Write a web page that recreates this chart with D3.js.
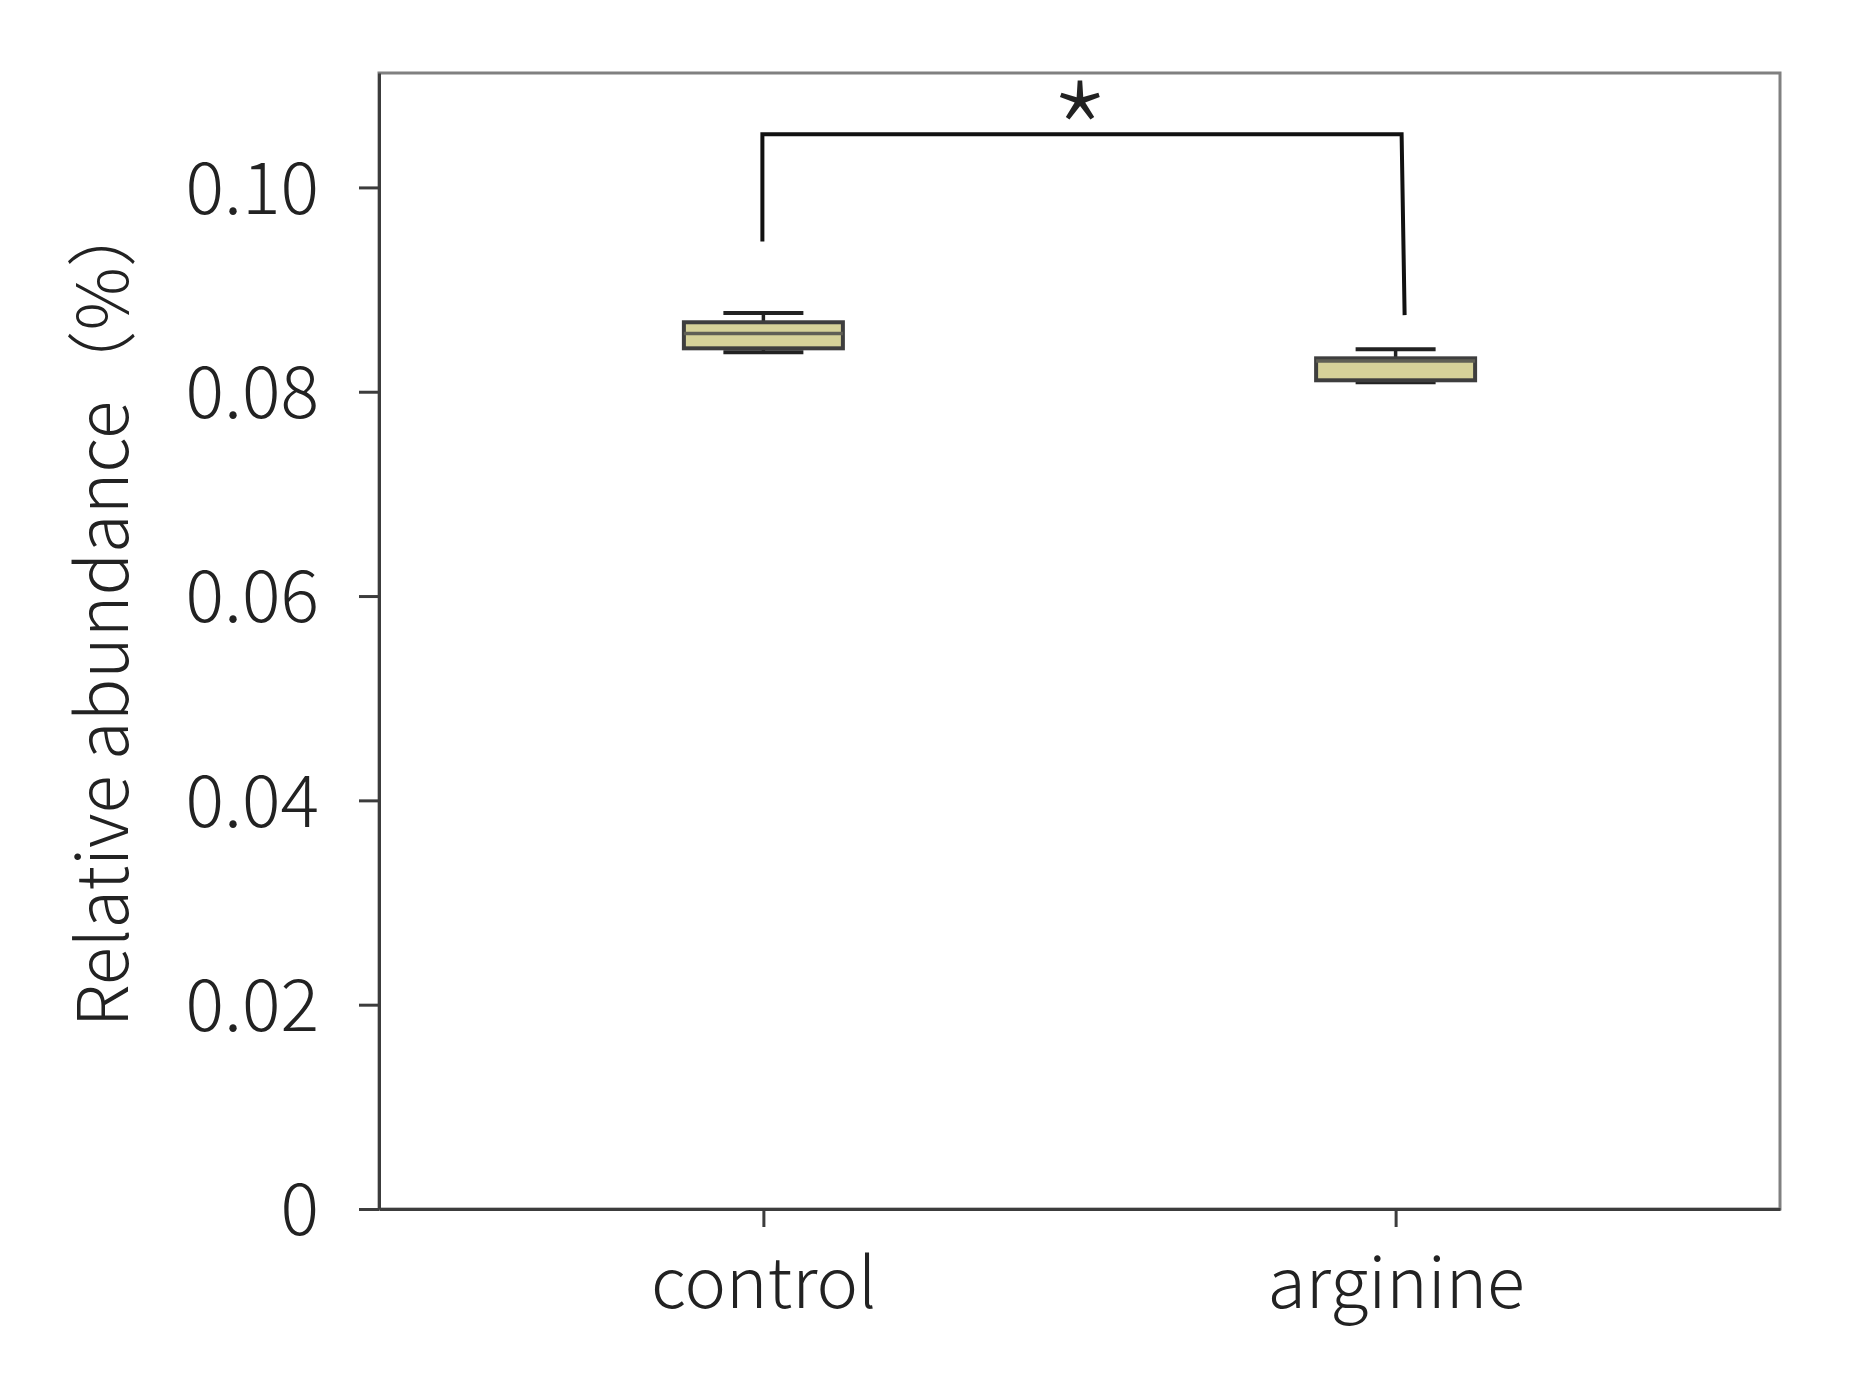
<!DOCTYPE html>
<html>
<head>
<meta charset="utf-8">
<script src="https://cdn.jsdelivr.net/npm/d3@7"></script>
<style>
  html, body { margin: 0; padding: 0; background: #fff; }
  svg text { font-family: "Noto Sans CJK JP", "Noto Sans", sans-serif; fill: #222; }
</style>
</head>
<body>
<svg id="chart" width="1868" height="1381"></svg>
<script>
// ---- data ----
const categories = ["control", "arginine"];
const whiskerMin = [0.08386, 0.08092];
const q1Values   = [0.08425, 0.08112];
const medians    = [0.08570, 0.08300];
const q3Values   = [0.08680, 0.08327];
const whiskerMax = [0.08770, 0.08415];
const yTickValues = [0, 0.02, 0.04, 0.06, 0.08, 0.10];
const yTickLabels = ["0", "0.02", "0.04", "0.06", "0.08", "0.10"];
const yLabel = "Relative abundance（%）";
// significance bracket: [left leg bottom, bracket top, right leg bottom]
const bracketLevels = [0.0947, 0.1052, 0.0875];
const sigLabel = "*";

// ---- layout ----
const svg = d3.select("#chart");
const pLeft = 379, pRight = 1780, pTop = 73, pBottom = 1209;
const FONT = "'Noto Sans CJK JP', sans-serif";
const WEIGHT = 300;

const x = d3.scalePoint().domain(categories).range([pLeft, pRight]).padding(0.608);
const y = d3.scaleLinear().domain([0, 0.1112]).range([pBottom, pTop]);

svg.append("rect").attr("x", 0).attr("y", 0).attr("width", 1868).attr("height", 1381).attr("fill", "#fff");

svg.append("rect")
  .attr("x", pLeft).attr("y", pTop).attr("width", pRight - pLeft).attr("height", pBottom - pTop)
  .attr("fill", "none").attr("stroke", "#808080").attr("stroke-width", 3);

const yAxis = d3.axisLeft(y).tickValues(yTickValues)
  .tickFormat((d, i) => yTickLabels[i]).tickSize(20).tickPadding(40).tickSizeOuter(0);
const gy = svg.append("g").attr("transform", `translate(${pLeft},0)`).call(yAxis);
gy.select(".domain").attr("stroke", "#3c3c3c").attr("stroke-width", 3);
gy.selectAll(".tick line").attr("stroke", "#3c3c3c").attr("stroke-width", 3);
gy.selectAll(".tick text").attr("font-size", 72).attr("font-weight", WEIGHT).attr("fill", "#1e1e1e")
  .attr("font-family", FONT).attr("dy", "0.36em");

const xAxis = d3.axisBottom(x).tickSize(18).tickPadding(31).tickSizeOuter(0);
const gx = svg.append("g").attr("transform", `translate(0,${pBottom})`).call(xAxis);
gx.select(".domain").attr("stroke", "#3c3c3c").attr("stroke-width", 3);
gx.selectAll(".tick line").attr("stroke", "#3c3c3c").attr("stroke-width", 3);
gx.selectAll(".tick text").attr("font-size", 70).attr("font-weight", WEIGHT).attr("fill", "#1e1e1e")
  .attr("font-family", FONT);

svg.append("text")
  .attr("transform", `translate(128,${(pTop + pBottom) / 2 - 29}) rotate(-90)`)
  .attr("text-anchor", "middle")
  .attr("font-size", 70.5).attr("font-weight", WEIGHT).attr("fill", "#1e1e1e")
  .text(yLabel);

const boxW = 159, capW = 80;
const boxes = categories.map((c, i) => ({
  c, min: whiskerMin[i], q1: q1Values[i], med: medians[i], q3: q3Values[i], max: whiskerMax[i]
}));
const g = svg.append("g");
boxes.forEach(b => {
  const cx = x(b.c);
  g.append("line").attr("x1", cx).attr("x2", cx).attr("y1", y(b.max)).attr("y2", y(b.q3))
    .attr("stroke", "#222").attr("stroke-width", 3.5);
  g.append("line").attr("x1", cx).attr("x2", cx).attr("y1", y(b.q1)).attr("y2", y(b.min))
    .attr("stroke", "#222").attr("stroke-width", 3.5);
  g.append("line").attr("x1", cx - capW / 2).attr("x2", cx + capW / 2)
    .attr("y1", y(b.max)).attr("y2", y(b.max)).attr("stroke", "#222").attr("stroke-width", 4);
  g.append("line").attr("x1", cx - capW / 2).attr("x2", cx + capW / 2)
    .attr("y1", y(b.min)).attr("y2", y(b.min)).attr("stroke", "#222").attr("stroke-width", 4);
  g.append("rect").attr("x", cx - boxW / 2).attr("y", y(b.q3))
    .attr("width", boxW).attr("height", y(b.q1) - y(b.q3))
    .attr("fill", "#d6d299").attr("stroke", "#3e3e3e").attr("stroke-width", 4);
  g.append("line").attr("x1", cx - boxW / 2).attr("x2", cx + boxW / 2)
    .attr("y1", y(b.med)).attr("y2", y(b.med)).attr("stroke", "#5f5f55").attr("stroke-width", 3.5);
});

const xl = x(categories[0]) - 1, xr = x(categories[1]) + 6;
svg.append("path")
  .attr("d", `M${xl},${y(bracketLevels[0])} L${xl},${y(bracketLevels[1])} L${xr},${y(bracketLevels[1])} L${xr + 3},${y(bracketLevels[2])}`)
  .attr("fill", "none").attr("stroke", "#111").attr("stroke-width", 4);
svg.append("text")
  .attr("x", (xl + xr) / 2 - 2).attr("y", y(bracketLevels[1]) + 64)
  .attr("text-anchor", "middle")
  .attr("font-size", 150).attr("font-weight", 100)
  .attr("font-family", FONT)
  .text(sigLabel);
</script>
</body>
</html>
